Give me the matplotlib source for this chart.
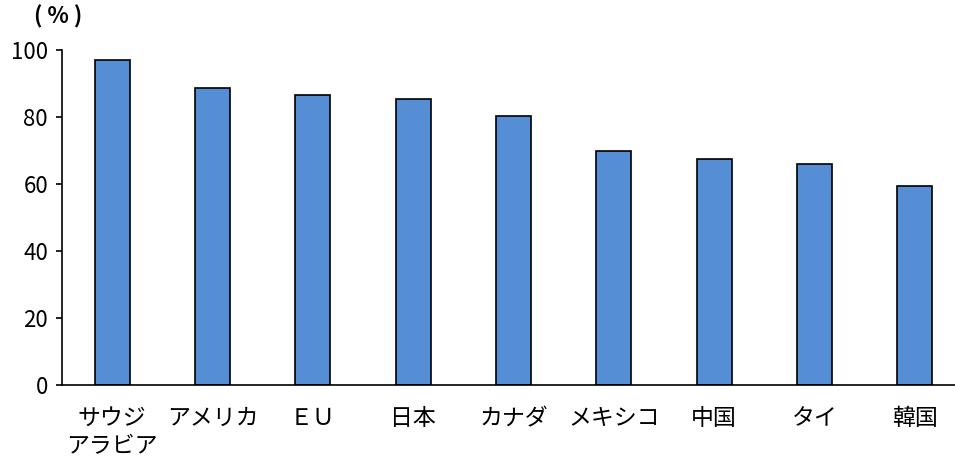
import matplotlib
matplotlib.use("Agg")
import matplotlib.pyplot as plt

plt.rcParams['font.family'] = ['Noto Sans CJK JP', 'DejaVu Sans']

# share of each region (%)
countries = ["サウジ\nアラビア", "アメリカ", "ＥＵ", "日本", "カナダ",
             "メキシコ", "中国", "タイ", "韓国"]
values = [97.0, 88.7, 86.6, 85.4, 80.3, 69.9, 67.4, 65.9, 59.5]
yticks = [0, 20, 40, 60, 80, 100]

fig = plt.figure(figsize=(9.55, 4.59), dpi=100)
ax = fig.add_axes([62 / 955, 74 / 459, 903 / 955, 335 / 459])

x = range(len(countries))
ax.bar(x, values, width=0.35, color="#558ed5", edgecolor="black", linewidth=1.2)

ax.set_xlim(-0.5, len(countries) - 0.5)
ax.set_ylim(0, 100)
ax.set_yticks(yticks)
ax.set_yticklabels([str(v) for v in yticks], fontsize=16)
ax.set_xticks(list(x))
ax.set_xticklabels(countries, fontsize=16.5, linespacing=1.3)

for side in ["top", "right"]:
    ax.spines[side].set_visible(False)
ax.spines["left"].set_linewidth(1.2)
ax.spines["bottom"].set_linewidth(1.2)
ax.tick_params(axis="y", direction="out", length=4, width=1.2, pad=6)
ax.tick_params(axis="x", length=0, pad=16)

# unit label above the y axis
fig.text(58 / 955, 1 - 17 / 459, "( % )", fontsize=16, ha="center", va="center",
         fontweight="bold")

fig.savefig("out.png", dpi=100)
